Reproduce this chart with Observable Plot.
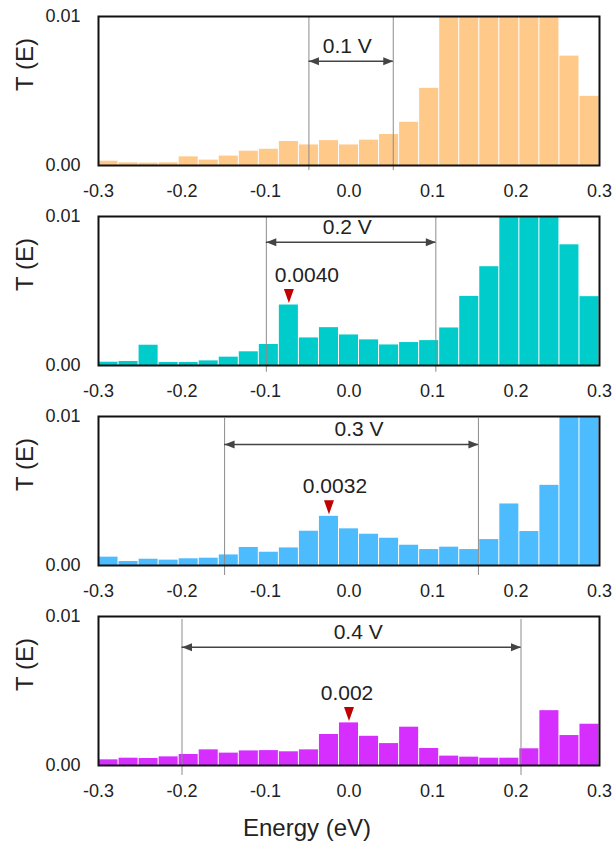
<!DOCTYPE html>
<html><head><meta charset="utf-8">
<script src="https://cdn.jsdelivr.net/npm/d3@7"></script>
<script src="https://cdn.jsdelivr.net/npm/@observablehq/plot@0.6"></script>
<style>
body{margin:0;background:#fff;font-family:"Liberation Sans",Arial,sans-serif;}
#chart{width:614px;}
#chart svg{display:block;}
.xlabel{height:46px;text-align:center;font-size:24px;color:#222;line-height:56px;font-family:"Liberation Sans",Arial,sans-serif;}
</style></head><body><div id="chart"></div>
<script>
// Bin centers (eV) and bin width
const energy = [-0.288,-0.264,-0.240,-0.216,-0.192,-0.168,-0.144,-0.120,-0.096,-0.072,-0.048,-0.024,0,0.024,0.048,0.072,0.096,0.120,0.144,0.168,0.192,0.216,0.240,0.264,0.288];
const binWidth = 0.024;
// Transmission T(E) per bias (values above 0.01 are shown capped at the axis top)
const t01 = [0.00029,0.00018,0.00016,0.00018,0.00058,0.00036,0.00063,0.00096,0.00109,0.00161,0.00138,0.00167,0.00138,0.0017,0.00208,0.0029,0.00518,0.01,0.01,0.01,0.01,0.01,0.01,0.00734,0.00464];
const t02 = [0.00022,0.00027,0.00136,0.0002,0.0002,0.00031,0.00056,0.00092,0.00141,0.00406,0.00185,0.00254,0.00205,0.00172,0.00138,0.00154,0.00167,0.00252,0.00464,0.00663,0.01,0.01,0.01,0.0081,0.00462];
const t03 = [0.00056,0.00027,0.00042,0.00036,0.00045,0.00049,0.00071,0.00121,0.00089,0.00118,0.0023,0.0033,0.00246,0.0021,0.00183,0.00136,0.00107,0.00123,0.00107,0.00174,0.00413,0.00228,0.00538,0.01,0.01];
const t04 = [0.00038,0.00049,0.00047,0.00058,0.00074,0.00105,0.00083,0.00098,0.001,0.00092,0.00105,0.00208,0.00286,0.00196,0.00147,0.00257,0.00114,0.00063,0.00056,0.00049,0.00049,0.00112,0.00368,0.00201,0.00277];
const xTicks = [-0.3,-0.2,-0.1,0,0.1,0.2,0.3];
const yTicks = [0, 0.01];
const colors = ["#FFC98A","#00CCCC","#4CBCFF","#D52EFF"];
const biasLabels = ["0.1 V","0.2 V","0.3 V","0.4 V"];
const biasLabelX = [-0.002,-0.002,0.012,0.011];
const windowLeft = [-0.048,-0.099,-0.149,-0.2];
const windowRight = [0.053,0.104,0.155,0.206];
const windowTop = [0.01,0.01,0.00987,0.0098];
const windowBottom = [-0.00034,-0.00045,-0.00067,-0.00067];
const arrowY = [0.0070,0.00827,0.00812,0.00794];
const peakIndex = [null,9,11,12];
const peakLabels = [null,"0.0040","0.0032","0.002"];
const peakLabelDx = [0,18,6,-2];

const seriesList = [t01,t02,t03,t04];
const font = '"Liberation Sans",Arial,sans-serif';

function panel(i){
  const series = seriesList[i];
  const bars = energy.map((e,k)=>({x1:e-binWidth/2,x2:e+binWidth/2,y:series[k]}));
  const marks = [
    Plot.rectY(bars,{x1:"x1",x2:"x2",y:"y",fill:colors[i],insetLeft:0.5,insetRight:0.5}),
    Plot.ruleX([windowLeft[i],windowRight[i]],{x:d=>d,y1:()=>windowTop[i],y2:()=>windowBottom[i],stroke:"#8c8c8c",strokeWidth:1}),
    Plot.frame({stroke:"#111",strokeWidth:2}),
    Plot.ruleY([{x1:windowLeft[i],x2:windowRight[i],y:arrowY[i]}],{x1:"x1",x2:"x2",y:"y",stroke:"#444",strokeWidth:1.5}),
    Plot.vector([{x:windowLeft[i],y:arrowY[i],r:-90},{x:windowRight[i],y:arrowY[i],r:90}],{x:"x",y:"y",rotate:"r",length:10,r:4,shape:"spike",anchor:"end",fill:"#444",stroke:"none"}),
    Plot.text([{x:biasLabelX[i],y:arrowY[i],t:biasLabels[i]}],{x:"x",y:"y",text:"t",dy:-15,lineAnchor:"middle",fontSize:21,fill:"#222"}),
    Plot.text(["T (E)"],{frameAnchor:"left",dx:-73,rotate:-90,text:d=>d,fontSize:24,fill:"#222"})
  ];
  if (peakIndex[i] !== null) {
    const k = peakIndex[i];
    const pk = [{x:energy[k],y:series[k],t:peakLabels[i]}];
    marks.push(Plot.vector(pk,{x:"x",y:"y",rotate:180,length:14,r:5,shape:"spike",anchor:"end",dy:-2,fill:"#C00000",stroke:"none"}));
    marks.push(Plot.text(pk,{x:"x",y:"y",text:"t",dy:-23,dx:peakLabelDx[i],lineAnchor:"bottom",fontSize:21,fill:"#222"}));
  }
  return Plot.plot({
    width:614, height:200,
    marginLeft:98, marginRight:15, marginTop:16, marginBottom:35,
    style:{fontSize:"18px",fontFamily:font,color:"#222",background:"#fff"},
    x:{domain:[-0.3,0.3],ticks:xTicks,tickFormat:d=>d.toFixed(1),tickSize:0,tickPadding:19,label:null},
    y:{domain:[0,0.01],ticks:yTicks,tickFormat:d=>d.toFixed(2),tickSize:0,tickPadding:18,label:null},
    marks
  });
}
const chart = document.getElementById("chart");
for (let i=0;i<4;i++) chart.appendChild(panel(i));
const xl = document.createElement("div");
xl.className = "xlabel";
xl.textContent = "Energy (eV)";
chart.appendChild(xl);
</script></body></html>
